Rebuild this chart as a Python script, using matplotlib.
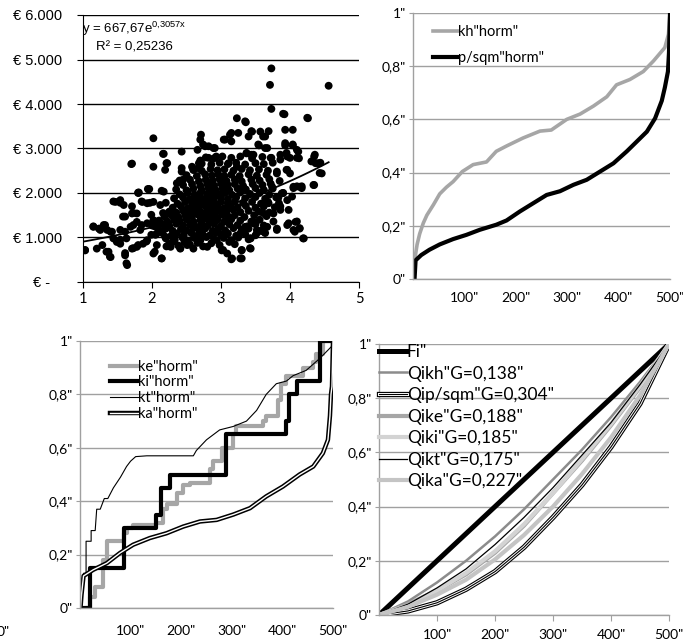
import matplotlib
matplotlib.use("Agg")
import matplotlib.pyplot as plt
import matplotlib.patheffects as pe
import numpy as np

# ---- data ----
# scatter: (x, price in thousand euro)
scatter_pts = [
    (3.73, 4.80), (3.71, 4.43), (4.56, 4.41), (3.73, 3.89), (4.26, 3.68), (3.92, 3.77),
    (3.23, 3.68), (3.36, 3.59), (2.02, 3.23), (3.93, 3.42), (4.04, 3.42), (3.93, 3.07),
    (4.04, 3.07), (4.12, 2.93), (2.71, 3.31), (3.04, 3.20), (3.13, 3.31), (3.25, 3.35),
    (3.45, 3.38), (3.40, 3.27), (3.57, 3.38), (3.64, 3.27), (3.67, 3.01), (3.55, 3.07),
    (2.43, 2.93), (2.17, 2.88), (2.22, 2.67), (1.70, 2.65), (2.02, 2.59), (2.43, 2.56),
    (2.82, 3.05), (2.89, 3.01), (2.66, 2.97), (2.93, 2.82), (2.58, 2.59), (2.68, 2.67),
    (3.11, 2.67), (3.23, 2.59), (3.37, 2.89), (3.47, 2.86), (3.86, 2.86), (3.96, 2.82),
    (4.13, 2.78), (4.35, 2.82), (4.37, 2.67), (4.44, 2.68), (4.46, 2.44), (4.35, 2.18),
    (4.05, 2.14), (4.14, 2.14), (3.81, 2.44), (3.96, 2.52), (4.00, 2.44), (1.81, 2.01),
    (1.95, 2.08), (2.02, 1.80), (2.17, 2.03), (1.47, 1.80), (1.54, 1.84), (1.59, 1.73),
    (1.71, 1.54), (1.78, 1.54), (1.86, 1.80), (1.93, 1.77), (1.61, 1.47), (1.15, 1.24),
    (1.23, 1.20), (1.30, 1.28), (1.35, 1.17), (1.40, 1.13), (1.54, 1.17), (1.69, 1.24),
    (1.78, 1.35), (1.83, 1.17), (1.93, 1.32), (2.02, 1.39), (1.03, 0.71), (1.20, 0.75),
    (1.28, 0.83), (1.37, 0.68), (1.40, 0.56), (1.49, 0.90), (1.54, 0.86), (1.61, 0.60),
    (1.64, 0.38), (1.71, 0.75), (1.78, 0.79), (1.87, 0.86), (1.93, 0.94), (2.02, 0.64),
    (2.07, 0.83), (2.14, 0.53), (2.07, 1.09), (2.27, 0.79), (2.31, 0.94), (2.41, 0.75),
    (2.51, 0.83), (2.60, 0.75), (2.70, 0.94), (2.80, 0.79), (2.94, 0.94), (3.01, 0.71),
    (3.09, 0.64), (3.16, 0.53), (3.28, 0.53), (3.30, 0.71), (3.43, 0.75), (3.43, 0.98),
    (4.20, 0.98), (4.14, 1.20), (4.08, 1.35), (4.05, 1.17), (3.96, 1.28), (3.81, 1.20),
    (3.67, 1.24), (3.62, 1.13), (3.52, 1.17), (3.47, 1.32), (3.35, 1.24), (3.28, 1.09),
    (3.86, 1.62), (3.76, 1.54), (3.96, 1.84), (4.03, 1.92), (3.84, 1.77), (3.88, 1.99),
    (4.05, 2.11), (4.17, 2.11), (3.74, 2.14),
    (1.15, 1.25), (1.25, 1.17), (1.32, 1.28), (1.44, 1.81), (1.54, 1.78), (1.58, 1.47),
    (1.71, 1.70), (1.73, 1.55), (1.80, 2.00), (1.94, 2.09), (1.85, 1.81), (1.97, 1.78),
    (1.99, 1.51), (1.73, 1.28), (1.85, 1.28), (1.61, 1.13), (1.42, 1.13), (1.44, 0.98),
    (1.03, 0.72), (1.34, 0.68), (1.39, 0.57), (1.61, 0.65), (1.63, 0.42), (1.73, 0.76),
    (1.80, 0.83), (1.92, 0.91), (2.04, 0.68), (2.14, 0.53), (2.21, 0.80), (2.19, 1.02),
    (2.31, 0.91), (2.41, 0.76), (2.50, 0.87), (1.54, 0.95), (1.63, 0.98), (1.99, 1.06),
    (2.04, 1.25), (2.12, 1.32), (2.16, 1.55), (2.26, 1.58), (2.12, 1.73),
    (3.15, 0.51), (3.30, 0.53), (3.03, 0.72), (3.30, 0.72), (3.42, 0.76), (3.42, 0.98),
    (4.19, 0.98), (4.14, 1.21), (4.07, 1.13), (4.10, 1.36), (3.98, 1.32), (3.81, 1.17),
    (3.76, 1.36), (3.64, 1.10), (3.52, 1.10), (3.47, 1.36), (3.61, 1.55), (3.86, 1.70),
    (3.98, 1.62), (3.69, 1.77), (4.10, 2.15), (4.17, 2.15), (4.34, 2.18), (3.90, 2.00),
    (3.83, 1.89),
    (3.90, 3.78), (4.25, 3.69), (3.35, 3.61), (3.15, 3.35), (3.44, 3.39), (3.69, 3.39),
    (3.61, 3.27), (3.06, 3.20), (3.15, 3.16), (2.74, 3.09), (2.91, 3.01), (3.93, 3.12),
    (4.04, 3.09), (4.10, 2.97), (3.54, 3.09), (3.64, 3.01), (3.37, 2.90), (3.44, 2.86),
    (3.95, 2.90), (4.00, 2.79), (4.10, 2.79), (4.36, 2.86), (4.31, 2.71), (4.41, 2.67),
    (4.43, 2.45), (3.81, 2.48), (3.95, 2.52), (3.86, 2.75), (3.73, 2.79),
    (2.70, 3.20), (2.77, 3.05), (2.16, 2.88), (2.21, 2.67), (1.71, 2.66), (2.19, 2.52),
    (2.43, 2.48), (2.60, 2.52), (2.82, 2.79), (2.70, 2.73), (2.67, 2.56), (2.36, 2.22),
    (2.45, 2.30), (1.80, 2.01), (1.96, 2.09), (2.14, 2.05),
    # dense core
    (2.25, 0.86), (2.38, 0.82), (2.47, 0.90), (2.55, 0.84), (2.66, 0.88), (2.74, 0.80),
    (2.86, 0.87), (2.98, 0.83), (3.12, 0.90), (3.20, 0.85),
    (2.20, 0.98), (2.33, 0.95), (2.44, 1.00), (2.52, 0.93), (2.61, 0.99), (2.70, 0.95),
    (2.79, 1.01), (2.90, 0.96), (3.04, 0.99), (3.15, 0.94), (3.25, 1.00), (3.40, 0.96),
    (2.05, 1.06), (2.15, 1.10), (2.28, 1.04), (2.36, 1.09), (2.46, 1.05), (2.57, 1.10),
    (2.65, 1.04), (2.73, 1.08), (2.84, 1.05), (2.92, 1.11), (3.00, 1.06), (3.10, 1.09),
    (3.22, 1.04), (3.35, 1.08), (3.50, 1.05),
    (2.10, 1.17), (2.20, 1.20), (2.30, 1.15), (2.42, 1.19), (2.50, 1.16), (2.60, 1.21),
    (2.68, 1.17), (2.77, 1.20), (2.88, 1.15), (2.96, 1.19), (3.06, 1.16), (3.18, 1.21),
    (3.30, 1.17), (3.40, 1.20), (3.58, 1.15),
    (2.00, 1.27), (2.15, 1.30), (2.25, 1.26), (2.35, 1.31), (2.45, 1.27), (2.55, 1.29),
    (2.63, 1.25), (2.72, 1.30), (2.81, 1.27), (2.90, 1.31), (3.00, 1.26), (3.12, 1.30),
    (3.24, 1.28), (3.38, 1.25), (3.50, 1.30), (3.62, 1.27),
    (2.10, 1.38), (2.22, 1.36), (2.32, 1.40), (2.40, 1.37), (2.50, 1.41), (2.60, 1.36),
    (2.70, 1.39), (2.78, 1.42), (2.86, 1.37), (2.95, 1.40), (3.05, 1.36), (3.15, 1.41),
    (3.28, 1.38), (3.44, 1.36), (3.56, 1.40),
    (2.18, 1.47), (2.28, 1.50), (2.38, 1.46), (2.48, 1.50), (2.58, 1.48), (2.66, 1.52),
    (2.75, 1.47), (2.84, 1.50), (2.93, 1.46), (3.02, 1.51), (3.10, 1.48), (3.20, 1.50),
    (3.34, 1.46), (3.48, 1.50), (3.66, 1.48),
    (2.25, 1.58), (2.35, 1.56), (2.45, 1.60), (2.55, 1.57), (2.62, 1.61), (2.71, 1.57),
    (2.80, 1.60), (2.90, 1.56), (2.98, 1.60), (3.08, 1.58), (3.18, 1.62), (3.28, 1.57),
    (3.40, 1.60), (3.55, 1.58), (3.70, 1.56),
    (2.30, 1.67), (2.42, 1.70), (2.52, 1.66), (2.60, 1.70), (2.68, 1.68), (2.77, 1.71),
    (2.86, 1.67), (2.95, 1.70), (3.05, 1.66), (3.14, 1.70), (3.24, 1.68), (3.36, 1.71),
    (3.50, 1.67), (3.62, 1.70), (3.78, 1.68),
    (2.20, 1.78), (2.37, 1.76), (2.48, 1.80), (2.58, 1.77), (2.66, 1.81), (2.75, 1.78),
    (2.83, 1.80), (2.92, 1.76), (3.00, 1.80), (3.10, 1.77), (3.20, 1.81), (3.32, 1.78),
    (3.45, 1.80), (3.58, 1.76), (3.68, 1.80),
    (2.32, 1.88), (2.45, 1.90), (2.55, 1.86), (2.64, 1.90), (2.73, 1.87), (2.82, 1.91),
    (2.90, 1.88), (3.00, 1.90), (3.10, 1.86), (3.22, 1.90), (3.35, 1.88), (3.50, 1.91),
    (3.64, 1.87), (3.80, 1.90),
    (2.40, 1.97), (2.52, 2.00), (2.62, 1.96), (2.70, 2.00), (2.80, 1.98), (2.88, 2.01),
    (2.97, 1.97), (3.06, 2.00), (3.16, 1.96), (3.28, 2.01), (3.42, 1.98), (3.56, 2.00),
    (3.70, 1.96), (3.90, 2.00),
    (2.35, 2.08), (2.50, 2.06), (2.60, 2.10), (2.72, 2.07), (2.82, 2.11), (2.92, 2.07),
    (3.02, 2.10), (3.12, 2.06), (3.24, 2.10), (3.36, 2.08), (3.50, 2.11), (3.62, 2.07),
    (3.75, 2.10),
    (2.45, 2.18), (2.58, 2.20), (2.70, 2.16), (2.80, 2.20), (2.90, 2.17), (3.00, 2.21),
    (3.10, 2.18), (3.20, 2.20), (3.32, 2.16), (3.46, 2.20), (3.60, 2.18), (3.72, 2.21),
    (2.40, 2.28), (2.55, 2.30), (2.68, 2.26), (2.78, 2.30), (2.88, 2.28), (2.98, 2.31),
    (3.08, 2.27), (3.20, 2.30), (3.30, 2.26), (3.44, 2.30), (3.56, 2.28), (3.70, 2.31),
    (3.85, 2.27),
    (2.50, 2.40), (2.65, 2.38), (2.77, 2.42), (2.87, 2.39), (2.96, 2.42), (3.05, 2.38),
    (3.15, 2.41), (3.27, 2.38), (3.40, 2.42), (3.52, 2.39), (3.66, 2.41),
    (2.60, 2.52), (2.72, 2.50), (2.85, 2.54), (2.95, 2.51), (3.05, 2.53), (3.18, 2.50),
    (3.30, 2.54), (3.42, 2.51), (3.55, 2.53), (3.68, 2.50),
    (2.72, 2.66), (2.86, 2.64), (2.98, 2.68), (3.10, 2.65), (3.22, 2.68), (3.35, 2.64),
    (3.50, 2.67), (3.62, 2.65), (3.75, 2.68),
    (2.78, 2.80), (2.90, 2.78), (3.02, 2.82), (3.15, 2.79), (3.28, 2.82), (3.45, 2.78),
    (3.60, 2.81), (3.72, 2.79),
]
trend_a = 667.67
trend_b = 0.3057
trend_x = [1.0, 4.56]
euro_ticks = [0, 1000, 2000, 3000, 4000, 5000, 6000]
euro_labels = ["€ -   ", "€ 1.000", "€ 2.000", "€ 3.000", "€ 4.000", "€ 5.000", "€ 6.000"]

# panel 2: sorted normalised values
kh_x = [1, 4, 8, 13, 20, 27, 40, 52, 65, 78, 96, 117, 143, 162, 182, 214, 247, 269,
        299, 325, 351, 377, 396, 422, 448, 468, 490, 497, 500]
kh_y = [0.03, 0.08, 0.13, 0.17, 0.21, 0.24, 0.28, 0.32, 0.345, 0.366, 0.404, 0.43,
        0.44, 0.48, 0.50, 0.53, 0.556, 0.56, 0.60, 0.62, 0.65, 0.685, 0.73, 0.75,
        0.78, 0.82, 0.87, 0.92, 1.0]
psqm_x = [3, 5, 16, 32, 52, 78, 104, 130, 162, 182, 208, 234, 260, 286, 312, 338,
          364, 390, 416, 435, 455, 471, 484, 490, 496, 498, 499, 500]
psqm_y = [0.0, 0.07, 0.09, 0.11, 0.13, 0.15, 0.166, 0.185, 0.204, 0.22, 0.254,
          0.285, 0.316, 0.33, 0.354, 0.373, 0.404, 0.435, 0.48, 0.516, 0.554, 0.604,
          0.67, 0.72, 0.78, 0.85, 0.92, 1.0]

# panel 3
ke_x = [15, 20, 30, 46, 53, 86, 92, 105, 151, 164, 171, 191, 204, 217, 257, 263, 280,
        303, 309, 362, 368, 391, 398, 408, 441, 461, 467, 480, 500]
ke_y = [0.0, 0.04, 0.08, 0.18, 0.25, 0.28, 0.30, 0.31, 0.32, 0.37, 0.39, 0.43, 0.46,
        0.47, 0.52, 0.55, 0.60, 0.65, 0.68, 0.70, 0.72, 0.78, 0.84, 0.87, 0.90, 0.92,
        0.95, 1.0, 1.0]
ki_x = [3, 20, 86, 151, 161, 178, 289, 408, 414, 428, 474, 500]
ki_y = [0.0, 0.15, 0.30, 0.35, 0.45, 0.50, 0.65, 0.70, 0.80, 0.85, 1.0, 1.0]
kt_x = [0, 3, 7, 12, 12, 22, 22, 30, 33, 40, 48, 55, 66, 80, 92, 100, 110, 132, 224,
        230, 250, 276, 303, 329, 349, 368, 388, 408, 421, 447, 474, 500]
kt_y = [0.0, 0.10, 0.13, 0.13, 0.25, 0.25, 0.29, 0.29, 0.37, 0.37, 0.41, 0.41, 0.45,
        0.49, 0.53, 0.55, 0.567, 0.57, 0.57, 0.59, 0.63, 0.667, 0.68, 0.70, 0.74, 0.80,
        0.84, 0.85, 0.87, 0.89, 0.935, 0.985]
ka_x = [1, 3, 7, 26, 53, 79, 105, 138, 171, 204, 237, 270, 303, 336, 368, 401, 434,
        461, 480, 490, 494, 496, 498, 500]
ka_y = [0.0, 0.05, 0.12, 0.143, 0.168, 0.206, 0.237, 0.262, 0.28, 0.305, 0.324, 0.33,
        0.35, 0.374, 0.418, 0.455, 0.50, 0.53, 0.58, 0.63, 0.72, 0.80, 0.83, 1.0]

# panel 4: Lorenz curves read every 50 units
lz_x = [0, 50, 100, 150, 200, 250, 300, 350, 400, 450, 500]
fi_y = [0, 0.1, 0.2, 0.3, 0.4, 0.5, 0.6, 0.7, 0.8, 0.9, 1.0]
qkh_y = [0, 0.05, 0.12, 0.20, 0.29, 0.39, 0.50, 0.61, 0.73, 0.86, 1.0]
qpsqm_y = [0, 0.015, 0.045, 0.095, 0.16, 0.25, 0.36, 0.48, 0.62, 0.78, 1.0]
qke_y = [0, 0.04, 0.09, 0.15, 0.23, 0.33, 0.45, 0.57, 0.70, 0.84, 1.0]
qki_y = [0, 0.035, 0.09, 0.155, 0.235, 0.335, 0.45, 0.575, 0.705, 0.845, 1.0]
qkt_y = [0, 0.04, 0.10, 0.17, 0.26, 0.36, 0.47, 0.59, 0.71, 0.85, 1.0]
qka_y = [0, 0.03, 0.075, 0.13, 0.205, 0.295, 0.40, 0.52, 0.655, 0.81, 1.0]

unit_ticks = [0, 0.2, 0.4, 0.6, 0.8, 1.0]
unit_labels = ['0"', '0,2"', '0,4"', '0,6"', '0,8"', '1"']
n_ticks = [100, 200, 300, 400, 500]
n_labels = ['100"', '200"', '300"', '400"', '500"']

GRID = "#a0a0a0"
CAL = "Lato"
W, H = 683, 642


def box(l, t, r, b):
    return [l / W, 1 - b / H, (r - l) / W, (b - t) / H]


def norm_axes(ax, xticklen=0, xpad=8):
    ax.set_xlim(0, 500)
    ax.set_ylim(0, 1)
    ax.set_yticks(unit_ticks)
    ax.set_yticklabels(unit_labels, fontfamily=CAL, fontsize=10)
    ax.set_xticks(n_ticks)
    ax.set_xticklabels(n_labels, fontfamily=CAL, fontsize=10)
    for s in ["top", "right"]:
        ax.spines[s].set_visible(False)
    for s in ["left", "bottom"]:
        ax.spines[s].set_color(GRID)
        ax.spines[s].set_linewidth(1)
    ax.grid(axis="y", color=GRID, linewidth=1)
    ax.set_axisbelow(True)
    ax.tick_params(axis="y", direction="out", length=3, color=GRID, pad=2)
    ax.tick_params(axis="x", direction="out", length=xticklen, color=GRID, pad=xpad)


fig = plt.figure(figsize=(6.83, 6.42), dpi=100)

# ---- panel 1: scatter ----
ax1 = fig.add_axes(box(83, 15, 359, 282))
sx = [p[0] for p in scatter_pts]
sy = [p[1] * 1000 for p in scatter_pts]
ax1.scatter(sx, sy, s=32, color="black", edgecolors="none", zorder=3)
tx = np.linspace(trend_x[0], trend_x[1], 50)
ax1.plot(tx, trend_a * np.exp(trend_b * tx), color="black", linewidth=1.3, zorder=4)
ax1.set_xlim(1, 5)
ax1.set_ylim(0, 6000)
ax1.set_xticks([1, 2, 3, 4, 5])
ax1.set_xticklabels(["1", "2", "3", "4", "5"], fontfamily=CAL, fontsize=10.5)
ax1.set_yticks(euro_ticks)
ax1.set_yticklabels(euro_labels, fontfamily="Liberation Sans", fontsize=10.5)
ax1.grid(axis="y", color="black", linewidth=1)
ax1.set_axisbelow(True)
for s in ["top", "right"]:
    ax1.spines[s].set_visible(False)
ax1.tick_params(direction="out", length=4, color="black", pad=3)
ax1.tick_params(axis="y", pad=11)
ax1.text(-0.005, 0.948, r"y = 667,67e$^{\mathregular{0{,}3057x}}$",
         transform=ax1.transAxes, fontfamily="Liberation Sans", fontsize=9.5,
         va="center", ha="left")
ax1.text(0.047, 0.88, "R² = 0,25236", transform=ax1.transAxes,
         fontfamily="Liberation Sans", fontsize=9.5, va="center", ha="left")

# ---- panel 2 ----
ax2 = fig.add_axes(box(413, 13, 670, 279))
norm_axes(ax2, xpad=9.5)
l_kh, = ax2.plot(kh_x, kh_y, color="#a6a6a6", linewidth=2.6, label='kh"horm"')
l_ps, = ax2.plot(psqm_x, psqm_y, color="black", linewidth=3, label='p/sqm"horm"')
ax2.legend(handles=[l_kh, l_ps], loc="upper left", bbox_to_anchor=(0.078, 0.955),
           frameon=False, handlelength=1.7, handletextpad=0, borderpad=0,
           borderaxespad=0, labelspacing=0.8, prop={"family": CAL, "size": 10.5})

# ---- panel 3 ----
ax3 = fig.add_axes(box(80, 341, 333, 608))
norm_axes(ax3, xpad=12.5)
l_ke, = ax3.plot(ke_x, ke_y, color="#a6a6a6", linewidth=3, drawstyle="steps-post",
                 label='ke"horm"')
l_ki, = ax3.plot(ki_x, ki_y, color="black", linewidth=3, drawstyle="steps-post",
                 label='ki"horm"')
l_kt, = ax3.plot(kt_x, kt_y, color="black", linewidth=0.8, label='kt"horm"')
l_ka, = ax3.plot(ka_x, ka_y, color="white", linewidth=1.0, label='ka"horm"',
                 path_effects=[pe.Stroke(linewidth=3.2, foreground="black"), pe.Normal()])
ax3.legend(handles=[l_ke, l_ki, l_kt, l_ka], loc="upper left",
           bbox_to_anchor=(0.119, 0.93), frameon=False, handlelength=1.9,
           handletextpad=0, borderpad=0, borderaxespad=0, labelspacing=0.12,
           prop={"family": CAL, "size": 10.5})
ax3.text(-0.305, -0.09, '0"', transform=ax3.transAxes, fontfamily=CAL, fontsize=10,
         ha="center", va="center")

# ---- panel 4 ----
ax4 = fig.add_axes(box(379, 344, 669, 615))
norm_axes(ax4, xticklen=4, xpad=6)
h_fi, = ax4.plot(lz_x, fi_y, color="black", linewidth=3.6, label='Fi"')
h_kh, = ax4.plot(lz_x, qkh_y, color="#8c8c8c", linewidth=1.8, label='Qikh"G=0,138"')
h_ps, = ax4.plot(lz_x, qpsqm_y, color="black", linewidth=0.8, label='Qip/sqm"G=0,304"',
                 path_effects=[pe.Stroke(linewidth=3.8, foreground="black"),
                               pe.Stroke(linewidth=2.2, foreground="white"), pe.Normal()])
h_ke, = ax4.plot(lz_x, qke_y, color="#a6a6a6", linewidth=3, label='Qike"G=0,188"')
h_ki, = ax4.plot(lz_x, qki_y, color="#d3d3d3", linewidth=3, label='Qiki"G=0,185"')
h_kt, = ax4.plot(lz_x, qkt_y, color="black", linewidth=0.9, label='Qikt"G=0,175"')
h_ka, = ax4.plot(lz_x, qka_y, color="#c4c4c4", linewidth=3, label='Qika"G=0,227"')
ax4.legend(handles=[h_fi, h_kh, h_ps, h_ke, h_ki, h_kt, h_ka], loc="upper left",
           bbox_to_anchor=(0.0, 1.0), frameon=False, handlelength=1.6,
           handletextpad=0, borderpad=0, borderaxespad=0, labelspacing=0.32,
           prop={"family": CAL, "size": 12.5})

fig.savefig("out.png", dpi=100)
